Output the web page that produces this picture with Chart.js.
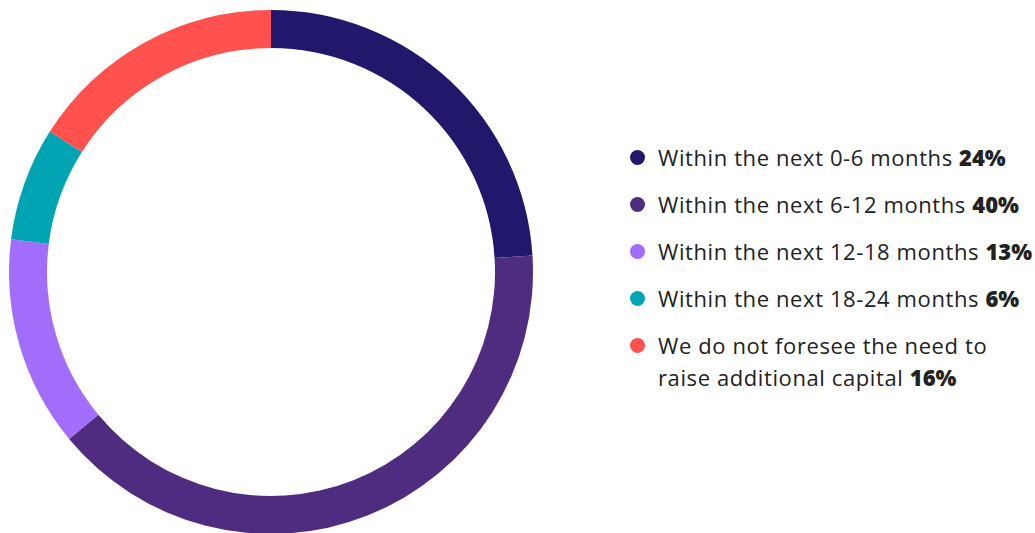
<!DOCTYPE html>
<html>
<head>
<meta charset="utf-8">
<script src="https://cdn.jsdelivr.net/npm/chart.js@4/dist/chart.umd.min.js"></script>
<style>
  html, body { margin: 0; padding: 0; background: #ffffff; width: 1035px; height: 533px; overflow: hidden; }
  #wrap { position: absolute; left: 9px; top: 10px; width: 524px; height: 524px; }
  #legend { position: absolute; left: 629px; top: 141px; margin: 0; padding: 0; list-style: none;
            font-family: "Open Sans", sans-serif; font-size: 22px; letter-spacing: 0.6px; color: #222222; }
  #legend li { position: relative; padding-left: 29px; line-height: 32px; margin-bottom: 15px; white-space: pre; }
  #legend li .dot { position: absolute; left: 1px; top: 9px; width: 15px; height: 15px; border-radius: 50%; }
  #legend li b { font-weight: 800; letter-spacing: 0px; }
</style>
</head>
<body>
<div id="wrap"><canvas id="c"></canvas></div>
<ul id="legend"></ul>
<script>
// Categories (legend text) and values
const categories = [
  "Within the next 0-6 months",
  "Within the next 6-12 months",
  "Within the next 12-18 months",
  "Within the next 18-24 months",
  "We do not foresee the need to\nraise additional capital"
];
// Percentages printed in the legend
const shownPercents = [24, 40, 13, 6, 16];
// Arc sizes as measured from the ring (%)
const arcShares = [24, 40, 13, 7, 16];
const colors = ["#22186b", "#4f2c80", "#a36dfb", "#00a4b3", "#ff524f"];

const chart = new Chart(document.getElementById("c"), {
  type: "doughnut",
  data: {
    labels: categories,
    datasets: [{
      data: arcShares,
      backgroundColor: colors,
      borderWidth: 0,
      hoverOffset: 0
    }]
  },
  options: {
    responsive: true,
    maintainAspectRatio: false,
    animation: false,
    cutout: "85.5%",
    layout: { padding: 0 },
    plugins: { legend: { display: false }, tooltip: { enabled: false } },
    events: []
  }
});

// HTML legend built from the arrays
const ul = document.getElementById("legend");
categories.forEach((cat, i) => {
  const li = document.createElement("li");
  const dot = document.createElement("span");
  dot.className = "dot";
  dot.style.background = colors[i];
  li.appendChild(dot);
  li.appendChild(document.createTextNode(cat + " "));
  const b = document.createElement("b");
  b.textContent = shownPercents[i] + "%";
  li.appendChild(b);
  ul.appendChild(li);
});
</script>
</body>
</html>
